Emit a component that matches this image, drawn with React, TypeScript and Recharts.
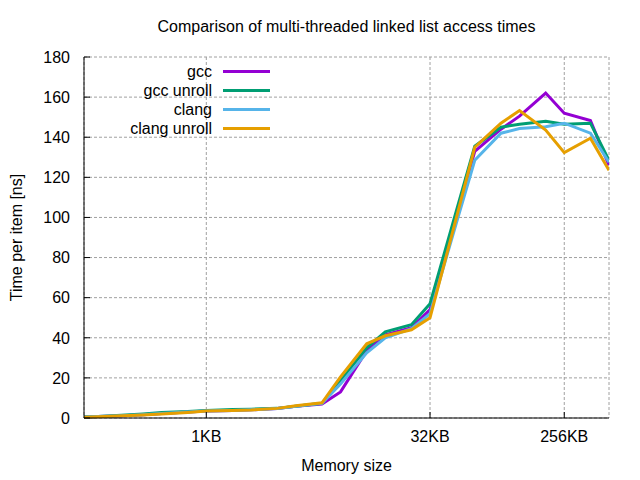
import React from 'react';
import { LineChart, Line, XAxis, YAxis, CartesianGrid, Legend } from 'recharts';

const FONT = '"Liberation Sans", Arial, sans-serif';

// memory size in bytes
const sizes = [154, 192, 256, 384, 512, 768, 1024, 1536, 2048, 3072, 4096, 6144, 8192, 12288, 16384, 24576, 32768, 49152, 65536, 98304, 131072, 196608, 262144, 393216, 524288];
const gcc = [0.5, 0.7, 1.0, 1.6, 2.2, 3.0, 3.5, 3.8, 4.1, 4.7, 5.8, 7.0, 13, 33.5, 41.5, 45, 54, 100, 133, 144, 150.5, 162, 152, 148.3, 126];
const gccUnroll = [0.6, 0.8, 1.2, 2.0, 2.7, 3.2, 3.8, 4.2, 4.4, 4.8, 5.9, 7.3, 18.5, 35, 43, 46.5, 57, 103, 135.5, 145, 146.5, 148, 146.5, 147, 128.5];
const clang = [0.5, 0.7, 1.0, 1.6, 2.2, 3.0, 3.5, 3.8, 4.1, 4.7, 5.9, 7.3, 17, 32.5, 40, 44.5, 52, 97, 128.5, 142, 144.3, 145.2, 147, 142, 127.5];
const clangUnroll = [0.4, 0.6, 1.0, 1.5, 2.0, 2.8, 3.5, 3.8, 4.0, 4.8, 6.1, 7.6, 20.5, 37, 41, 44, 50, 99.5, 135, 147, 153.3, 143.6, 132.3, 139.5, 123.5];

const seriesNames = ['gcc', 'gcc unroll', 'clang', 'clang unroll'];
const xTicks = [1024, 32768, 262144];
const xTickLabels = ['1KB', '32KB', '256KB'];
const yTicks = [0, 20, 40, 60, 80, 100, 120, 140, 160, 180];

const data = sizes.map((size, i) => ({
  size,
  gcc: gcc[i],
  gccUnroll: gccUnroll[i],
  clang: clang[i],
  clangUnroll: clangUnroll[i],
}));

const TICK_LEN = 6;
const fmtX = (v: number) => xTickLabels[xTicks.indexOf(v)] ?? '';

const LeftTick = ({ x, y, payload }: any) => (
  <g>
    <line x1={x + 14} x2={x + 14 + TICK_LEN} y1={y} y2={y} stroke="#000" />
    <text x={x} y={y} dy="0.36em" textAnchor="end" fill="#000" fontSize={16} fontFamily={FONT}>
      {payload.value}
    </text>
  </g>
);

const RightTick = ({ x, y }: any) => (
  <line x1={x - 4} x2={x - 4 - TICK_LEN} y1={y} y2={y} stroke="#000" />
);

const BottomTick = ({ x, y, payload }: any) => (
  <g>
    <line x1={x} x2={x} y1={y - 13} y2={y - 13 - TICK_LEN} stroke="#000" />
    <text x={x} y={y} dy="0.71em" textAnchor="middle" fill="#000" fontSize={16} fontFamily={FONT}>
      {fmtX(payload.value)}
    </text>
  </g>
);

const TopTick = ({ x, y }: any) => (
  <line x1={x} x2={x} y1={y + 4} y2={y + 4 + TICK_LEN} stroke="#000" />
);

const LegendBox = ({ payload }: any) => {
  const items = [...(payload || [])].sort(
    (a: any, b: any) => seriesNames.indexOf(a.value) - seriesNames.indexOf(b.value)
  );
  return (
    <div style={{ fontFamily: FONT, fontSize: 16, color: '#000' }}>
      {items.map((p: any) => (
        <div key={p.value} style={{ display: 'flex', alignItems: 'center', height: 19 }}>
          <span style={{ width: 112, textAlign: 'right' }}>{p.value}</span>
          <span style={{ width: 47, height: 3, background: p.color, marginLeft: 11 }} />
        </div>
      ))}
    </div>
  );
};

export default function App() {
  return (
    <div style={{ position: 'absolute', left: 0, top: 0, width: 640, height: 480, background: '#fff' }}>
      <div
        style={{
          position: 'absolute', left: 84, width: 525, top: 17, textAlign: 'center',
          fontFamily: FONT, fontSize: 16, color: '#000', lineHeight: '20px',
        }}
      >
        Comparison of multi-threaded linked list access times
      </div>
      <LineChart width={640} height={480} data={data} margin={{ top: 57, right: 31, left: 0, bottom: 0 }}>
        <CartesianGrid stroke="#a0a0a0" strokeDasharray="3 2" />
        <XAxis
          dataKey="size"
          type="number"
          scale="log"
          domain={[154, 524288]}
          allowDataOverflow
          ticks={xTicks}
          height={62}
          tickSize={0}
          tickMargin={13}
          tickLine={false}
          tick={<BottomTick />}
          axisLine={{ stroke: '#000' }}
          label={{ value: 'Memory size', position: 'center', dy: 16, fill: '#000', fontSize: 16, fontFamily: FONT }}
        />
        <XAxis
          xAxisId="top"
          dataKey="size"
          type="number"
          scale="log"
          orientation="top"
          domain={[154, 524288]}
          allowDataOverflow
          ticks={xTicks}
          height={0}
          tickSize={0}
          tickMargin={4}
          tickLine={false}
          tick={<TopTick />}
          axisLine={{ stroke: '#000' }}
        />
        <YAxis
          type="number"
          domain={[0, 180]}
          ticks={yTicks}
          width={84}
          tickSize={0}
          tickMargin={14}
          tickLine={false}
          tick={<LeftTick />}
          axisLine={{ stroke: '#000' }}
          label={{ value: 'Time per item [ns]', angle: -90, position: 'center', dx: -26, fill: '#000', fontSize: 16, fontFamily: FONT }}
        />
        <YAxis
          yAxisId="right"
          orientation="right"
          type="number"
          domain={[0, 180]}
          ticks={yTicks}
          width={0}
          tickSize={0}
          tickMargin={4}
          tickLine={false}
          tick={<RightTick />}
          axisLine={{ stroke: '#000' }}
        />
        <Legend
          layout="vertical"
          align="center"
          verticalAlign="middle"
          content={<LegendBox />}
          wrapperStyle={{ position: 'absolute', left: 100, top: 62, width: 'auto', height: 'auto' }}
        />
        <Line dataKey="gcc" name="gcc" stroke="#9400d3" strokeWidth={3} dot={false} isAnimationActive={false} />
        <Line dataKey="gccUnroll" name="gcc unroll" stroke="#009e73" strokeWidth={3} dot={false} isAnimationActive={false} />
        <Line dataKey="clang" name="clang" stroke="#56b4e9" strokeWidth={3} dot={false} isAnimationActive={false} />
        <Line dataKey="clangUnroll" name="clang unroll" stroke="#e69f00" strokeWidth={3} dot={false} isAnimationActive={false} />
      </LineChart>
    </div>
  );
}
